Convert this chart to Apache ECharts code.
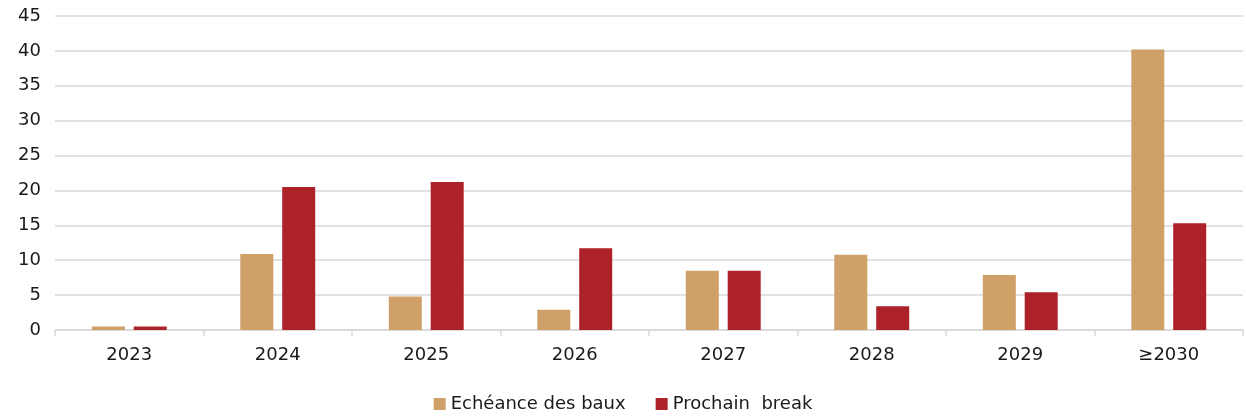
<!DOCTYPE html>
<html>
<head>
<meta charset="utf-8">
<script src="https://cdn.jsdelivr.net/npm/echarts@6/dist/echarts.min.js"></script>
<style>
  html, body { margin: 0; padding: 0; background: #fff; }
  #chart { width: 1246px; height: 419px; }
</style>
</head>
<body>
<div id="chart"></div>
<script>
const categories = ['2023', '2024', '2025', '2026', '2027', '2028', '2029', '≥2030']
const echeance = [0.5, 10.9, 4.8, 2.9, 8.5, 10.8, 7.9, 40.2]
const prochainBreak = [0.5, 20.5, 21.2, 11.7, 8.5, 3.4, 5.4, 15.3]
const seriesNames = ['Echéance des baux', 'Prochain  break']

const chart = echarts.init(document.getElementById('chart'))
const fontFamily = '"DejaVu Sans", "Noto Sans", sans-serif'

chart.setOption({
  animation: false,
  grid: { left: 55, right: 3, top: 16, bottom: 89 },
  legend: {
    bottom: 1,
    left: 'center',
    itemWidth: 12,
    itemHeight: 12,
    itemGap: 30,
    icon: 'rect',
    textStyle: { fontFamily, fontSize: 18, color: '#1a1a1a' },
    data: seriesNames
  },
  xAxis: {
    type: 'category',
    data: categories,
    axisLine: { lineStyle: { color: '#d9d9d9', width: 1.5 } },
    axisTick: { show: true, length: 6, lineStyle: { color: '#d9d9d9', width: 1.5 } },
    axisLabel: { fontFamily, fontSize: 18, color: '#1a1a1a', margin: 16 }
  },
  yAxis: {
    type: 'value',
    min: 0,
    max: 45,
    interval: 5,
    axisLine: { show: false },
    axisTick: { show: false },
    splitLine: { lineStyle: { color: '#d9d9d9', width: 1.5 } },
    axisLabel: { fontFamily, fontSize: 18, color: '#1a1a1a', margin: 14 }
  },
  series: [
    {
      name: seriesNames[0],
      type: 'bar',
      data: echeance,
      barWidth: 33,
      barGap: '27%',
      itemStyle: { color: '#CFA068' }
    },
    {
      name: seriesNames[1],
      type: 'bar',
      data: prochainBreak,
      barWidth: 33,
      itemStyle: { color: '#AD2129' }
    }
  ]
})
</script>
</body>
</html>
